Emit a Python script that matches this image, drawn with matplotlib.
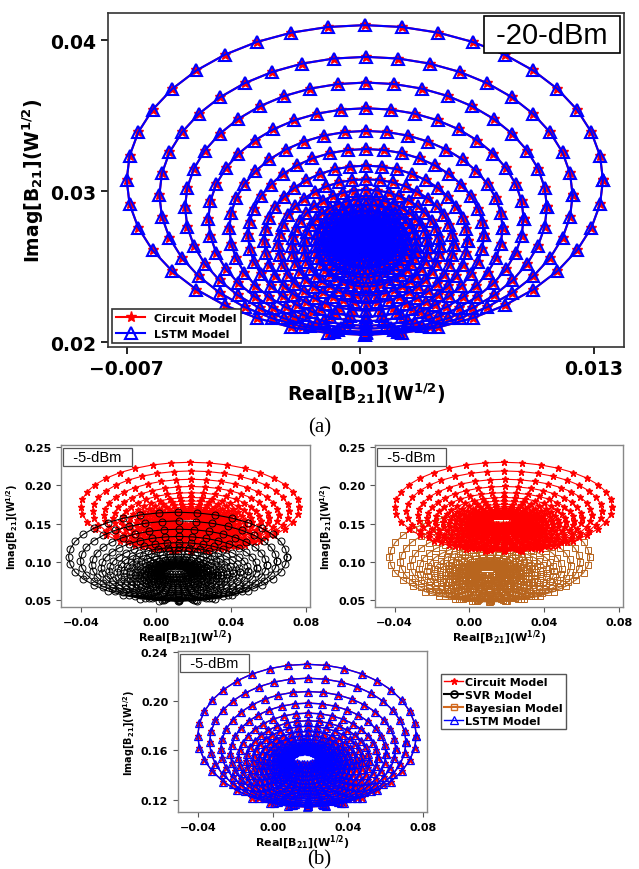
import numpy as np
import matplotlib
matplotlib.use('Agg')
import matplotlib.pyplot as plt

plt.rcParams['font.family'] = 'DejaVu Sans'
plt.rcParams['font.weight'] = 'bold'
plt.rcParams['axes.unicode_minus'] = True

# (a) -20 dBm rings: top, bottom, left, right of each ring
a_top = [0.0410, 0.0389, 0.0372, 0.0355, 0.0340, 0.0328, 0.0317, 0.0308,
         0.0301, 0.0295, 0.0291, 0.0287, 0.0284, 0.0281, 0.0279, 0.0277,
         0.0276, 0.0275, 0.0274]
a_bottom = [0.0205, 0.0206, 0.0207, 0.0209, 0.0211, 0.0214, 0.0217, 0.0221,
            0.0226, 0.0231, 0.0237, 0.0243, 0.0249, 0.0254, 0.0258, 0.0261,
            0.0264, 0.0266, 0.0268]
a_left = [-0.0070, -0.0056, -0.0045, -0.0035, -0.0026, -0.0018, -0.0011, -0.0005,
          0.0001, 0.0006, 0.0011, 0.0014, 0.0017, 0.0019, 0.0021, 0.0022,
          0.0024, 0.0025, 0.0026]
a_right = [0.0134, 0.0121, 0.0110, 0.0100, 0.0091, 0.0083, 0.0076, 0.0070,
           0.0064, 0.0059, 0.0054, 0.0050, 0.0047, 0.0044, 0.0042, 0.0040,
           0.0039, 0.0038, 0.0037]

# (b) -5 dBm circuit model rings
b_top = [0.2298, 0.2185, 0.2077, 0.1983, 0.1902, 0.1840, 0.1795, 0.1752, 0.1717,
         0.1688, 0.1663, 0.1645, 0.1632, 0.1620, 0.1612, 0.1606, 0.1602]
b_bottom = [0.1140, 0.1145, 0.1152, 0.1162, 0.1175, 0.1190, 0.1208, 0.1228, 0.1250,
            0.1275, 0.1300, 0.1328, 0.1358, 0.1390, 0.1422, 0.1455, 0.1488]
b_left = [-0.0400, -0.0337, -0.0277, -0.0226, -0.0183, -0.0141, -0.0107, -0.0075, -0.0048,
          -0.0022, 0.0000, 0.0020, 0.0038, 0.0053, 0.0066, 0.0077, 0.0086]
b_right = [0.0765, 0.0710, 0.0655, 0.0603, 0.0558, 0.0515, 0.0478, 0.0445, 0.0415,
           0.0390, 0.0365, 0.0342, 0.0320, 0.0300, 0.0283, 0.0265, 0.0250]

# offset of SVR / Bayesian predictions against the circuit model (dx, dy, x scale)
svr_shift = (-0.0065, -0.065, 1.0)
bayes_shift = (-0.0075, -0.066, 0.92)

a_xticks = [-0.007, 0.003, 0.013]
a_yticks = [0.02, 0.03, 0.04]
b_xticks = [-0.04, 0.00, 0.04, 0.08]
b_yticks = [0.05, 0.10, 0.15, 0.20, 0.25]
c_yticks = [0.12, 0.16, 0.20, 0.24]

red = '#ff0000'
blue = '#0000ff'
brown = '#b8651e'


def rings(top, bottom, left, right, n, shift=(0, 0, 1.0)):
    dx, dy, sx = shift
    cx0 = (left[0] + right[0]) / 2
    xs, ys = [], []
    t = np.linspace(0, 2 * np.pi, n)
    for tp, bt, lf, rt in zip(top, bottom, left, right):
        cx = (lf + rt) / 2
        cy = (tp + bt) / 2
        rx = (rt - lf) / 2
        ry = (tp - bt) / 2
        x = cx + rx * np.cos(t)
        x = cx0 + sx * (x - cx0) + dx
        xs.extend(list(x) + [np.nan])
        ys.extend(list(cy + ry * np.sin(t) + dy) + [np.nan])
    return np.array(xs), np.array(ys)


fig = plt.figure(figsize=(6.39, 8.70), dpi=100)

# ---- (a)
ax = fig.add_axes([0.169, 0.6, 0.8075, 0.3839])
x, y = rings(a_top, a_bottom, a_left, a_right, 41)
ax.plot(x, y, color=red, lw=1.5, marker='*', ms=8, mec=red, label='Circuit Model')
ax.plot(x, y, color=blue, lw=1.5, marker='^', ms=9, mfc='none', mec=blue, mew=1.5,
        label='LSTM Model')
ax.set_xlim(-0.0078, 0.0143)
ax.set_ylim(0.0197, 0.0418)
ax.set_xticks(a_xticks)
ax.set_xticklabels(['\u22120.007', '0.003', '0.013'])
ax.set_yticks(a_yticks)
ax.set_yticklabels(['0.02', '0.03', '0.04'])
ax.tick_params(labelsize=13.5, length=5, width=1.2)
ax.set_xlabel('Real[B$_{21}$](W$^{1/2}$)', fontsize=13.5, fontweight='bold', labelpad=2)
ax.set_ylabel('Imag[B$_{21}$](W$^{1/2}$)', fontsize=13.5, fontweight='bold', labelpad=3)
for s in ax.spines.values():
    s.set_color('#333333')
    s.set_linewidth(1.2)
leg = ax.legend(loc='lower left', fontsize=8, borderaxespad=0.35, fancybox=False,
                edgecolor='#333333', handlelength=2.6, framealpha=1)
leg.get_frame().set_linewidth(1.2)
ax.text(0.860, 0.9356, ' -20-dBm ', transform=ax.transAxes, ha='center', va='center',
        fontsize=21, family='Liberation Sans', fontweight='normal',
        bbox=dict(boxstyle='square,pad=0.15', fc='white', ec='black', lw=1.2))
fig.text(0.5, 1 - 428 / 870, '(a)', ha='center', va='center', fontsize=15,
         family='Liberation Serif', fontweight='normal')

# ---- (b)
cx, cy = rings(b_top, b_bottom, b_left, b_right, 37)
sx_, sy_ = rings(b_top, b_bottom, b_left, b_right, 37, svr_shift)
bx_, by_ = rings(b_top, b_bottom, b_left, b_right, 37, bayes_shift)


def small_axes(rect, ylim, yticks):
    a = fig.add_axes(rect)
    a.set_xlim(-0.0505, 0.0822)
    a.set_ylim(*ylim)
    a.set_xticks(b_xticks)
    a.set_xticklabels(['\u22120.04', '0.00', '0.04', '0.08'])
    a.set_yticks(yticks)
    a.set_yticklabels(['%.2f' % v for v in yticks])
    a.tick_params(labelsize=8, length=3.5, width=0.8, color='#555555')
    a.set_xlabel('Real[B$_{21}$](W$^{1/2}$)', fontsize=8, fontweight='bold', labelpad=1)
    a.set_ylabel('Imag[B$_{21}$](W$^{1/2}$)', fontsize=7, fontweight='bold', labelpad=3)
    for s in a.spines.values():
        s.set_color('#888888')
        s.set_linewidth(1.0)
    a.text(0.147, 0.926, '  -5-dBm  ', transform=a.transAxes, ha='center', va='center',
           fontsize=10.5, family='Liberation Sans', fontweight='normal',
           bbox=dict(boxstyle='square,pad=0.15', fc='white', ec='#555555', lw=0.9))
    return a


ax1 = small_axes([0.0955, 0.3011, 0.3897, 0.1862], (0.0414, 0.2522), b_yticks)
ax1.plot(cx, cy, color=red, lw=0.8, marker='*', ms=5)
ax1.plot(sx_, sy_, color='black', lw=0.8, marker='o', ms=5, mfc='none', mec='black', mew=0.7)

ax2 = small_axes([0.5869, 0.3011, 0.3881, 0.1862], (0.0414, 0.2522), b_yticks)
ax2.plot(bx_, by_, color=brown, lw=0.8, marker='s', ms=5, mfc='none', mec=brown, mew=0.7)
ax2.plot(cx, cy, color=red, lw=0.8, marker='*', ms=5)

ax3 = small_axes([0.2786, 0.0655, 0.3897, 0.185], (0.110, 0.2405), c_yticks)
h1, = ax3.plot(cx, cy, color=red, lw=1.0, marker='*', ms=5, label='Circuit Model')
h4, = ax3.plot(cx, cy, color=blue, lw=1.0, marker='^', ms=5.5, mfc='none', mec=blue,
               mew=0.9, label='LSTM Model')
h2, = ax3.plot([], [], color='black', lw=1.5, marker='o', ms=5, mfc='none', mew=1.2,
               label='SVR Model')
h3, = ax3.plot([], [], color='#d2691e', lw=1.5, marker='s', ms=5, mfc='none', mew=1.0,
               label='Bayesian Model')
fig.legend(handles=[h1, h2, h3, h4], loc='upper left',
           bbox_to_anchor=(441 / 639, 1 - 675 / 870), borderaxespad=0, fontsize=8,
           fancybox=False, edgecolor='#555555', handlelength=1.7, borderpad=0.3,
           labelspacing=0.25, handletextpad=0.2, framealpha=1)
fig.text(0.5, 1 - 860 / 870, '(b)', ha='center', va='center', fontsize=15,
         family='Liberation Serif', fontweight='normal')

plt.savefig('out.png', dpi=100)
